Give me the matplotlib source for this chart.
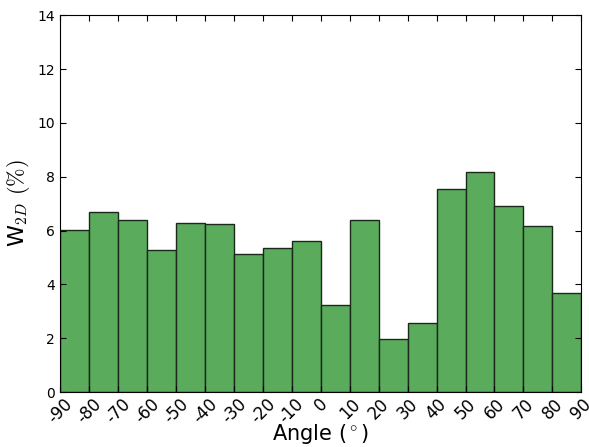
import numpy as np
import matplotlib
matplotlib.use('Agg')
import matplotlib.pyplot as plt

plt.rcParams['mathtext.fontset'] = 'cm'

# bin edges and bar heights (%)
edges = list(range(-90, 91, 10))
heights = [6.03, 6.69, 6.39, 5.28, 6.29, 6.23, 5.13, 5.35, 5.60, 3.25,
           6.39, 1.98, 2.55, 7.56, 8.17, 6.91, 6.17, 3.68]

fig, ax = plt.subplots(figsize=(5.89, 4.47), dpi=100)
fig.subplots_adjust(left=0.102, right=0.987, top=0.966, bottom=0.123)

ax.bar(edges[:-1], heights, width=10, align='edge', color='#5aab5c',
       edgecolor='#1a2a1a', linewidth=1.0)

ax.set_xlim(-90, 90)
ax.set_ylim(0, 14)
ax.set_xticks(edges)
ax.set_xticklabels([str(e) for e in edges], rotation=45, fontsize=12)
ax.set_yticks(range(0, 15, 2))
ax.tick_params(axis='y', labelsize=10)
ax.tick_params(direction='in', top=True, right=True, length=4)
ax.tick_params(axis='x', pad=2)

ax.set_xlabel(r'Angle ($^\circ$)', fontsize=15, labelpad=-3)
ax.set_ylabel(r'W$_{2D}$ $(\%)$', fontsize=16)

fig.savefig('out.png', dpi=100)
